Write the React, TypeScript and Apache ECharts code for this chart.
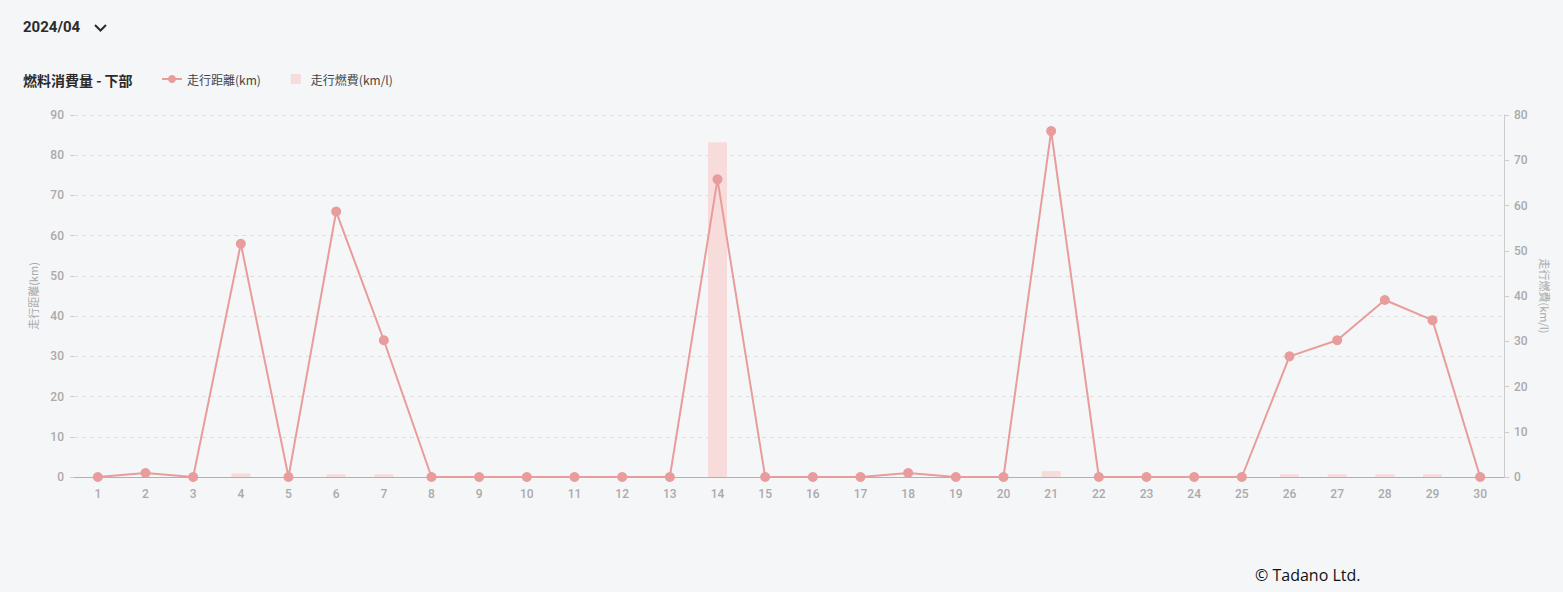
import React, { useEffect, useRef } from "react";
import * as echarts from "echarts";

const days: string[] = Array.from({ length: 30 }, (_, i) => String(i + 1));
const distanceKm: number[] = [0, 1, 0, 58, 0, 66, 34, 0, 0, 0, 0, 0, 0, 74, 0, 0, 0, 1, 0, 0, 86, 0, 0, 0, 0, 30, 34, 44, 39, 0];
const fuelEconomy: number[] = [0, 0, 0, 0.8, 0, 0.6, 0.6, 0, 0, 0, 0, 0, 0, 74, 0, 0, 0, 0, 0, 0, 1.3, 0, 0, 0, 0, 0.6, 0.6, 0.6, 0.6, 0];
const leftTicks = { min: 0, max: 90, interval: 10 };
const rightTicks = { min: 0, max: 80, interval: 10 };

const LINE_COLOR = "#e89c9c";
const BAR_COLOR = "#f8dbdb";
const AXIS_TEXT = "#aaaaaa";
const FONT = "'Noto Sans CJK JP', 'Noto Sans', sans-serif";
const NUM_FONT = "Roboto, 'Noto Sans', sans-serif";

export default function App() {
  const ref = useRef<HTMLDivElement>(null);

  useEffect(() => {
    if (!ref.current) return;
    const chart = echarts.init(ref.current, undefined, { renderer: "svg" });
    chart.setOption({
      animation: false,
      backgroundColor: "#f5f6f8",
      textStyle: { fontFamily: FONT },
      title: [
        {
          text: "2024/04",
          left: 23,
          top: 19,
          padding: 0,
          textStyle: { fontSize: 15, fontWeight: "bold", color: "#2b2b2b", fontFamily: "Roboto, sans-serif" },
        },
        {
          text: "燃料消費量 - 下部",
          left: 23,
          top: 73,
          padding: 0,
          textStyle: { fontSize: 14, fontWeight: "bold", color: "#2b2b2b", fontFamily: FONT },
        },
      ],
      graphic: [
        {
          type: "polyline",
          shape: { points: [[95, 25], [100.5, 30.5], [106, 25]] },
          style: { stroke: "#2b2b2b", lineWidth: 2, fill: "none" },
        },
        {
          type: "text",
          left: 1255,
          top: 567,
          style: { text: "© Tadano Ltd.", fontSize: 16, fill: "#111", fontFamily: "'Open Sans', sans-serif" },
        },
      ],
      legend: {
        left: 156,
        top: 68,
        itemGap: 30,
        itemWidth: 20,
        itemHeight: 10,
        textStyle: { fontSize: 12, color: "#444", fontFamily: FONT },
        data: [
          { name: "走行距離(km)" },
          { name: "走行燃費(km/l)", icon: "path://M0,0H10V10H0Z", itemStyle: { color: BAR_COLOR } },
        ],
      },
      grid: { left: 74, right: 59, top: 115, bottom: 115 },
      xAxis: {
        type: "category",
        data: days,
        axisLine: { lineStyle: { color: "#b0b0b0" } },
        axisTick: { show: false },
        axisLabel: { color: AXIS_TEXT, fontSize: 12, margin: 11, fontFamily: NUM_FONT, fontWeight: 500 },
      },
      yAxis: [
        {
          type: "value",
          ...leftTicks,
          name: "走行距離(km)",
          nameLocation: "middle",
          nameGap: 36,
          nameRotate: 90,
          nameTextStyle: { color: AXIS_TEXT, fontSize: 11 },
          axisLine: { show: false },
          axisTick: { show: true, length: 4, lineStyle: { color: "#cccccc" } },
          axisLabel: { color: AXIS_TEXT, fontSize: 12, margin: 10, fontFamily: NUM_FONT, fontWeight: 500 },
          splitLine: { lineStyle: { type: [4, 4], color: "#dedede" } },
        },
        {
          type: "value",
          ...rightTicks,
          position: "right",
          name: "走行燃費(km/l)",
          nameLocation: "middle",
          nameGap: 36,
          nameRotate: -90,
          nameTextStyle: { color: AXIS_TEXT, fontSize: 11 },
          axisLine: { show: true, lineStyle: { color: "#cccccc" } },
          axisTick: { show: true, length: 5, lineStyle: { color: "#cccccc" } },
          axisLabel: { color: AXIS_TEXT, fontSize: 12, margin: 10, fontFamily: NUM_FONT, fontWeight: 500 },
          splitLine: { show: false },
        },
      ],
      series: [
        {
          name: "走行燃費(km/l)",
          type: "bar",
          yAxisIndex: 1,
          data: fuelEconomy,
          barWidth: 19,
          itemStyle: { color: BAR_COLOR },
          z: 1,
        },
        {
          name: "走行距離(km)",
          type: "line",
          yAxisIndex: 0,
          data: distanceKm,
          symbol: "circle",
          symbolSize: 10,
          lineStyle: { color: LINE_COLOR, width: 2 },
          itemStyle: { color: LINE_COLOR },
          z: 3,
        },
      ],
    });
    return () => chart.dispose();
  }, []);

  return (
    <div
      ref={ref}
      style={{ position: "fixed", left: 0, top: 0, width: 1563, height: 592 }}
    />
  );
}
